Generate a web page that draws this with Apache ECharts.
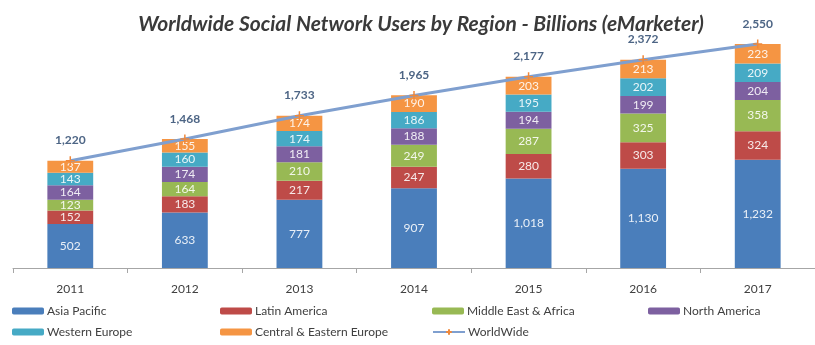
<!DOCTYPE html>
<html>
<head>
<meta charset="utf-8">
<script src="https://cdn.jsdelivr.net/npm/echarts@6/dist/echarts.min.js"></script>
<style>
  html, body { margin: 0; padding: 0; background: #ffffff; }
  #chart { width: 815px; height: 345px; }
</style>
</head>
<body>
<div id="chart"></div>
<script>
// Social network users per region, in millions (labelled as billions in the source title)
const years = ['2011', '2012', '2013', '2014', '2015', '2016', '2017'];
const asiaPacific      = [502, 633, 777, 907, 1018, 1130, 1232];
const latinAmerica     = [152, 183, 217, 247, 280, 303, 324];
const middleEastAfrica = [123, 164, 210, 249, 287, 325, 358];
const northAmerica     = [164, 174, 181, 188, 194, 199, 204];
const westernEurope    = [143, 160, 174, 186, 195, 202, 209];
const centralEastern   = [137, 155, 174, 190, 203, 213, 223];
const worldwide        = [1220, 1468, 1733, 1965, 2177, 2372, 2550];

const regionNames = ['Asia Pacific', 'Latin America', 'Middle East & Africa', 'North America',
                     'Western Europe', 'Central & Eastern Europe'];
const regionData = [asiaPacific, latinAmerica, middleEastAfrica, northAmerica, westernEurope, centralEastern];
const regionColors = ['#4a7ebb', '#be4b48', '#98b954', '#7d60a0', '#46aac5', '#f59543'];

const FONT = 'Lato, "Open Sans", sans-serif';
const fmt = v => Number(v).toLocaleString('en-US');

const barSeries = regionNames.map((name, i) => ({
  name: name,
  type: 'bar',
  stack: 'users',
  barWidth: '40%',
  data: regionData[i],
  itemStyle: { color: regionColors[i] },
  label: {
    show: true,
    position: 'inside',
    color: 'rgba(255,255,255,0.88)',
    fontFamily: FONT,
    fontSize: 12,
    formatter: p => fmt(p.value)
  },
  z: 2
}));

const lineSeries = {
  name: 'WorldWide',
  type: 'line',
  data: worldwide,
  symbol: 'path://M5,0 L5,10 M0,5 L10,5',
  symbolSize: 9,
  itemStyle: { color: '#7f9fcf', borderColor: '#f0883a', borderWidth: 1.5 },
  lineStyle: { color: '#7f9fcf', width: 3 },
  label: {
    show: true,
    position: 'top',
    distance: 9,
    color: '#4d6585',
    fontFamily: FONT,
    fontWeight: 'bold',
    fontSize: 12,
    formatter: p => fmt(p.value)
  },
  z: 5
};

// One legend block per entry so the items sit in fixed columns
const legendSlots = [
  { name: 'Asia Pacific', left: 12, top: 305 },
  { name: 'Latin America', left: 220, top: 305 },
  { name: 'Middle East & Africa', left: 432, top: 305 },
  { name: 'North America', left: 648, top: 305 },
  { name: 'Western Europe', left: 12, top: 326 },
  { name: 'Central & Eastern Europe', left: 220, top: 326 },
  { name: 'WorldWide', left: 432, top: 326 }
];
const legends = legendSlots.map(s => ({
  data: [s.name],
  left: s.left,
  top: s.top,
  padding: 0,
  itemWidth: 32,
  itemHeight: 7,
  itemGap: 0,
  textStyle: { color: '#404040', fontFamily: FONT, fontSize: 12, padding: [0, 0, 0, -2] },
  selectedMode: false
}));

const chart = echarts.init(document.getElementById('chart'), null, { renderer: 'canvas' });
chart.setOption({
  animation: false,
  backgroundColor: '#ffffff',
  title: {
    text: 'Worldwide Social Network Users by Region - Billions (eMarketer)',
    left: 416,
    textAlign: 'center',
    top: 9,
    textStyle: {
      color: '#3a3a3a',
      fontFamily: FONT,
      fontStyle: 'italic',
      fontWeight: 'bold',
      fontSize: 21
    }
  },
  legend: legends,
  grid: { left: 13, right: -7, top: 4.5, bottom: 77 },
  xAxis: {
    type: 'category',
    data: years,
    boundaryGap: true,
    axisLine: { lineStyle: { color: '#a6a6a6', width: 1 } },
    axisTick: { show: true, length: 5, lineStyle: { color: '#a6a6a6' } },
    axisLabel: { color: '#404040', fontFamily: FONT, fontSize: 12, margin: 15 }
  },
  yAxis: {
    type: 'value',
    min: 0,
    max: 3000,
    show: false,
    splitLine: { show: false }
  },
  series: [...barSeries, lineSeries]
});
</script>
</body>
</html>
